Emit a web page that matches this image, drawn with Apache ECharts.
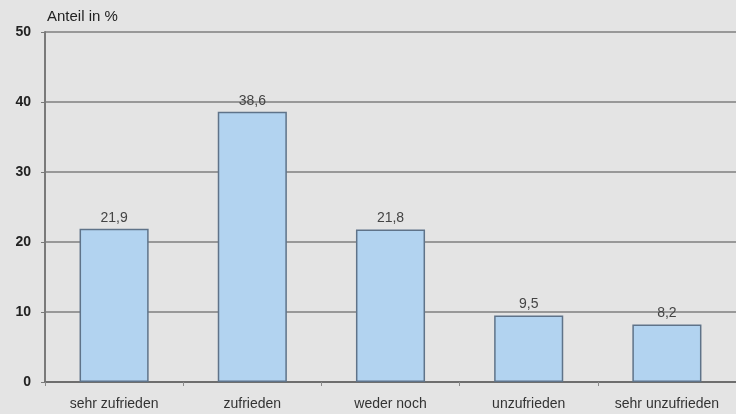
<!DOCTYPE html>
<html><head><meta charset="utf-8">
<script src="https://cdn.jsdelivr.net/npm/echarts@6/dist/echarts.min.js"></script>
<style>html,body{margin:0;padding:0;background:#e4e4e4;}#c{width:736px;height:414px;}</style>
</head><body><div id="c"></div>
<script>
const categories = ['sehr zufrieden', 'zufrieden', 'weder noch', 'unzufrieden', 'sehr unzufrieden'];
const values = [21.9, 38.6, 21.8, 9.5, 8.2];
const yTicks = [0, 10, 20, 30, 40, 50];
const yTitle = 'Anteil in %';

const chart = echarts.init(document.getElementById('c'));
chart.setOption({
  backgroundColor: '#e4e4e4',
  animation: false,
  textStyle: { fontFamily: 'Liberation Sans, Arial, sans-serif' },
  grid: { left: 45, right: 0, top: 32, bottom: 32, containLabel: false },
  xAxis: {
    type: 'category',
    data: categories,
    axisLine: { lineStyle: { color: '#6e6e6e', width: 2 } },
    axisTick: { show: true, length: 4, lineStyle: { color: '#8a8a8a' } },
    axisLabel: { color: '#333', fontSize: 14, margin: 15 }
  },
  yAxis: {
    type: 'value',
    min: yTicks[0], max: yTicks[yTicks.length - 1], interval: 10,
    name: yTitle,
    nameLocation: 'end',
    nameGap: 8,
    nameTextStyle: { color: '#222', fontSize: 15, align: 'left', padding: [0, 0, 0, 2] },
    axisLine: { show: true, lineStyle: { color: '#7a7a7a', width: 2 } },
    axisTick: { show: true, length: 4, lineStyle: { color: '#7a7a7a' } },
    axisLabel: { color: '#222', fontSize: 14, fontWeight: 'bold', margin: 14 },
    splitLine: { lineStyle: { color: '#7f7f7f', width: 1.5 } }
  },
  series: [{
    type: 'bar',
    data: values,
    barWidth: '50%',
    itemStyle: { color: '#b2d3f0', borderColor: '#5f7389', borderWidth: 1.5 },
    label: {
      show: true, position: 'top', distance: 4,
      color: '#444', fontSize: 14,
      formatter: p => String(p.value).replace('.', ',')
    }
  }]
});
</script></body></html>
